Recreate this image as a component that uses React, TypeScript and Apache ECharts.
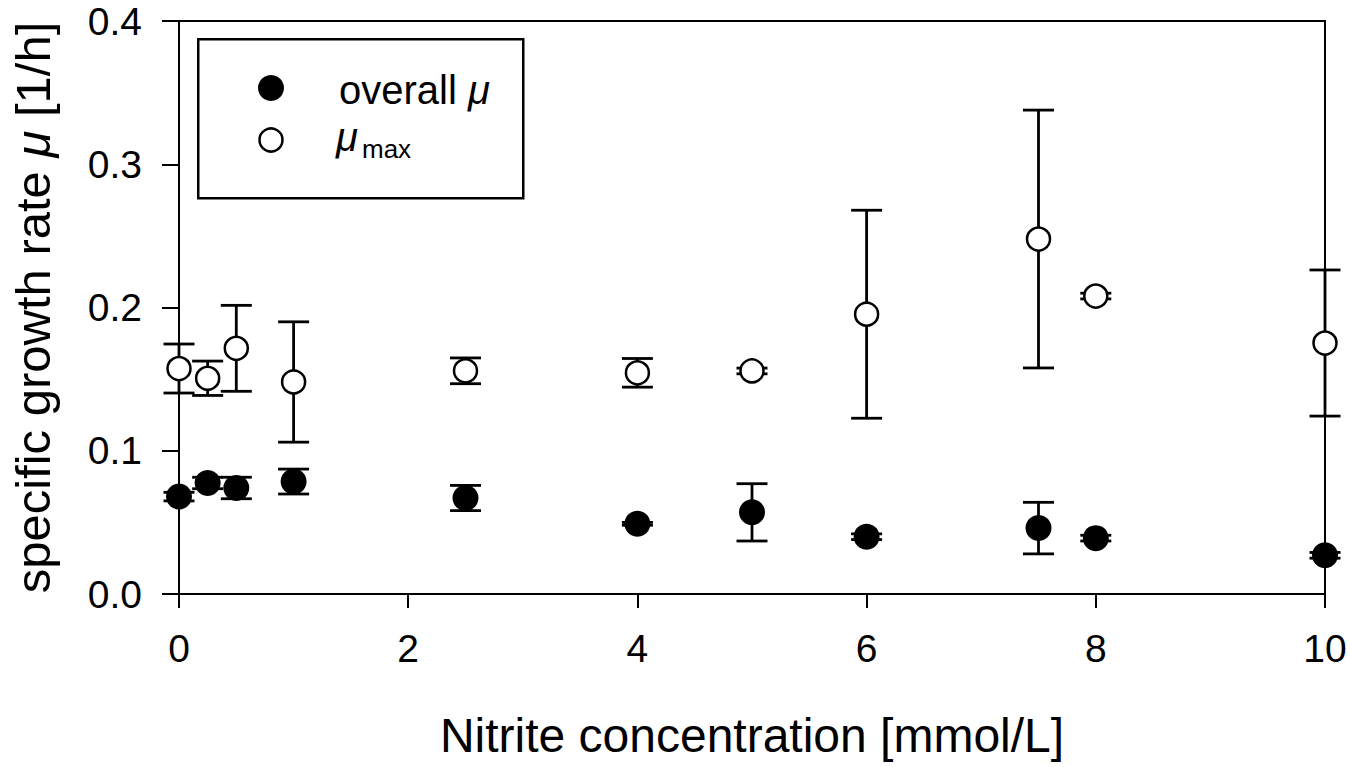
import React, { useEffect, useRef } from "react";
import * as echarts from "echarts";

const concentrations = [0, 0.25, 0.5, 1, 2.5, 4, 5, 6, 7.5, 8, 10];
const overallMu = [0.068, 0.0775, 0.074, 0.0785, 0.067, 0.049, 0.057, 0.04, 0.046, 0.039, 0.027];
const overallMuErr = [0.003, 0.004, 0.0075, 0.0087, 0.0088, 0.001, 0.02, 0.002, 0.018, 0.002, 0.002];
const muMax = [0.1574, 0.1506, 0.1715, 0.148, 0.1558, 0.1544, 0.1557, 0.1953, 0.2478, 0.208, 0.1752];
const muMaxErr = [0.0171, 0.012, 0.03, 0.042, 0.009, 0.01, 0.002, 0.0726, 0.09, 0.002, 0.051];
const xTicks = [0, 2, 4, 6, 8, 10];
const yTicks = [0, 0.1, 0.2, 0.3, 0.4];

const FONT = 'Arial, "Liberation Sans", sans-serif';

function errorSeries(name: string, vals: number[], errs: number[]) {
  const data = concentrations.map((x, i) => [x, vals[i] - errs[i], vals[i] + errs[i]]);
  return {
    type: "custom",
    name,
    z: 1,
    silent: true,
    data,
    renderItem: (params: any, api: any) => {
      const x = api.value(0);
      const lo = api.coord([x, api.value(1)]);
      const hi = api.coord([x, api.value(2)]);
      const hw = 15.5;
      const style = { stroke: "#000", lineWidth: 2.8 };
      return {
        type: "group",
        children: [
          { type: "line", shape: { x1: lo[0], y1: lo[1], x2: hi[0], y2: hi[1] }, style },
          { type: "line", shape: { x1: lo[0] - hw, y1: lo[1], x2: lo[0] + hw, y2: lo[1] }, style },
          { type: "line", shape: { x1: hi[0] - hw, y1: hi[1], x2: hi[0] + hw, y2: hi[1] }, style },
        ],
      };
    },
  };
}

export default function App() {
  const ref = useRef<HTMLDivElement>(null);
  useEffect(() => {
    if (!ref.current) return;
    const chart = echarts.init(ref.current, undefined, { renderer: "svg" });
    const option: any = {
      animation: false,
      backgroundColor: "#fff",
      grid: {
        left: 179,
        right: 25,
        top: 21,
        bottom: 173,
        show: true,
        borderColor: "#000",
        borderWidth: 2,
        backgroundColor: "transparent",
      },
      xAxis: {
        type: "value",
        min: xTicks[0],
        max: xTicks[xTicks.length - 1],
        interval: xTicks[1] - xTicks[0],
        name: "Nitrite concentration [mmol/L]",
        nameLocation: "middle",
        nameGap: 117,
        nameTextStyle: { fontFamily: FONT, fontSize: 48, color: "#000" },
        axisLine: { lineStyle: { color: "#000", width: 2 } },
        axisTick: { show: true, inside: false, length: 14, lineStyle: { color: "#000", width: 2 } },
        axisLabel: { fontFamily: FONT, fontSize: 39, color: "#000", margin: 35 },
        splitLine: { show: false },
      },
      yAxis: {
        type: "value",
        min: yTicks[0],
        max: yTicks[yTicks.length - 1],
        interval: 0.1,
        name: "specific growth rate {i|μ} [1/h]",
        nameLocation: "middle",
        nameGap: 122,
        nameRotate: 90,
        nameTextStyle: {
          fontFamily: FONT,
          fontSize: 49,
          color: "#000",
          padding: [0, 0, 0, 0],
          rich: { i: { fontFamily: FONT, fontSize: 49, fontStyle: "italic", color: "#000" } },
        },
        axisLine: { lineStyle: { color: "#000", width: 2 } },
        axisTick: { show: true, inside: false, length: 17, lineStyle: { color: "#000", width: 2 } },
        axisLabel: {
          fontFamily: FONT,
          fontSize: 39,
          color: "#000",
          margin: 37,
          formatter: (v: number) => v.toFixed(1),
        },
        splitLine: { show: false },
      },
      graphic: [
        {
          type: "rect",
          left: 197,
          top: 38,
          shape: { width: 325, height: 159 },
          style: { fill: "#fff", stroke: "#000", lineWidth: 2.5 },
          z: 10,
        },
        {
          type: "circle",
          shape: { cx: 271, cy: 88, r: 13 },
          style: { fill: "#000" },
          z: 11,
        },
        {
          type: "circle",
          shape: { cx: 271, cy: 140, r: 11.5 },
          style: { fill: "#fff", stroke: "#000", lineWidth: 2.5 },
          z: 11,
        },
        {
          type: "text",
          x: 339,
          y: 90,
          z: 11,
          style: {
            text: "overall {i|μ}",
            fontFamily: FONT,
            fontSize: 40,
            fill: "#000",
            verticalAlign: "middle",
            rich: { i: { fontFamily: FONT, fontSize: 40, fontStyle: "italic", fill: "#000" } },
          },
        },
        {
          type: "text",
          x: 336,
          y: 137,
          z: 11,
          style: {
            text: "μ",
            fontFamily: FONT,
            fontSize: 40,
            fontStyle: "italic",
            fill: "#000",
            verticalAlign: "middle",
          },
        },
        {
          type: "text",
          x: 362,
          y: 149,
          z: 11,
          style: {
            text: "max",
            fontFamily: FONT,
            fontSize: 26,
            fill: "#000",
            verticalAlign: "middle",
          },
        },
      ],
      series: [
        errorSeries("overall μ err", overallMu, overallMuErr),
        errorSeries("μmax err", muMax, muMaxErr),
        {
          type: "scatter",
          name: "overall μ",
          z: 3,
          symbol: "circle",
          symbolSize: 26,
          clip: false,
          itemStyle: { color: "#000", opacity: 1 },
          data: concentrations.map((x, i) => [x, overallMu[i]]),
        },
        {
          type: "scatter",
          name: "μmax",
          z: 3,
          symbol: "circle",
          symbolSize: 23,
          clip: false,
          itemStyle: { color: "#fff", borderColor: "#000", borderWidth: 2.5, opacity: 1 },
          data: concentrations.map((x, i) => [x, muMax[i]]),
        },
      ],
    };
    chart.setOption(option);
    return () => chart.dispose();
  }, []);
  return (
    <div
      ref={ref}
      style={{ position: "fixed", left: 0, top: 0, width: 1350, height: 767, background: "#fff" }}
    />
  );
}
